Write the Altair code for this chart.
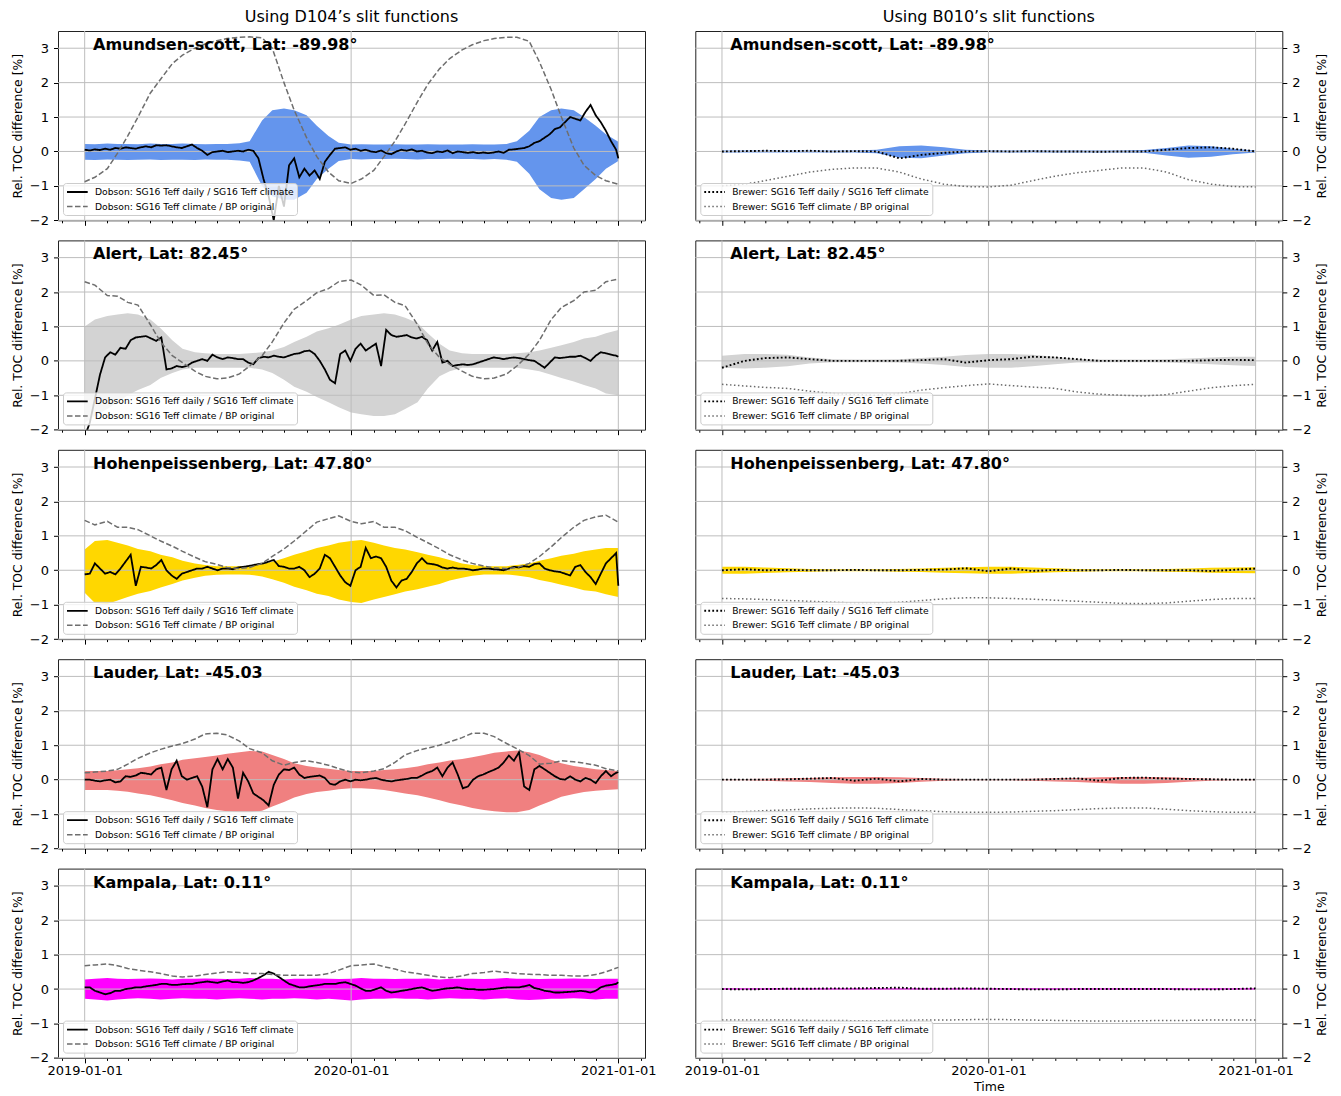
import altair as alt
import pandas as pd

# ---------------- text ----------------
STATIONS = ["Amundsen-scott, Lat: -89.98°", "Alert, Lat: 82.45°",
            "Hohenpeissenberg, Lat: 47.80°", "Lauder, Lat: -45.03", "Kampala, Lat: 0.11°"]
BAND_COLORS = ["#6495ED", "#D3D3D3", "#FFD700", "#F08080", "#FF00FF"]
COL_TITLES = ["Using D104’s slit functions", "Using B010’s slit functions"]
DOBSON_LABELS = ["Dobson: SG16 Teff daily / SG16 Teff climate", "Dobson: SG16 Teff climate / BP original"]
BREWER_LABELS = ["Brewer: SG16 Teff daily / SG16 Teff climate", "Brewer: SG16 Teff climate / BP original"]
Y_TICKS = [-2, -1, 0, 1, 2, 3]
YEAR_LINES = ["2019-01-01", "2020-01-01", "2021-01-01"]

# ---------------- dates ----------------
SEMI_DATES = [f"{y}-{m:02d}-{d:02d}" for y in (2019, 2020) for m in range(1, 13) for d in (1, 15)] + ["2021-01-01"]
MONTH_DATES = [f"{y}-{m:02d}-01" for y in (2019, 2020) for m in range(1, 13)] + ["2021-01-01"]
WEEK_DATES = [d.strftime("%Y-%m-%d") for d in pd.date_range("2019-01-01", periods=105, freq="7D")] + ["2021-01-01"]

# ---------------- D104 (left column) ----------------
# bands and climate ratio: semi-monthly; daily ratio: weekly
AMU_D_UP = [0.22, 0.21, 0.23, 0.22, 0.22, 0.21, 0.23, 0.22, 0.22, 0.23, 0.22, 0.21, 0.22, 0.22, 0.24,
            0.3, 0.9, 1.2, 1.25, 1.2, 1.05, 0.75, 0.45, 0.25,
            0.2, 0.21, 0.2, 0.2, 0.21, 0.2, 0.2, 0.21, 0.2, 0.2, 0.2, 0.21, 0.2, 0.2, 0.22,
            0.3, 0.6, 1.0, 1.2, 1.25, 1.2, 1.0, 0.75, 0.5, 0.28]
AMU_D_LO = [-0.24, -0.25, -0.23, -0.24, -0.25, -0.24, -0.23, -0.25, -0.24, -0.24, -0.25, -0.23, -0.24, -0.24, -0.26,
            -0.3, -1.0, -1.3, -1.4, -1.4, -1.2, -0.8, -0.5, -0.28,
            -0.22, -0.23, -0.22, -0.22, -0.21, -0.22, -0.23, -0.22, -0.22, -0.21, -0.22, -0.22, -0.23, -0.22, -0.24,
            -0.3, -0.65, -1.1, -1.35, -1.4, -1.35, -1.1, -0.8, -0.5, -0.28]
AMU_D_DAILY = [0.05, 0.03, 0.06, 0.04, 0.08, 0.05, 0.1, 0.08, 0.12, 0.1,
               0.08, 0.12, 0.15, 0.12, 0.18, 0.17, 0.18, 0.15, 0.12, 0.1,
               0.15, 0.2, 0.1, 0.02, -0.1, -0.02, 0.0, 0.02, -0.02, 0.0,
               0.02, 0.0, 0.05, 0.02, -0.2, -0.8, -1.3, -2.0, -1.0, -1.6,
               -0.4, -0.2, -0.75, -0.5, -0.7, -0.55, -0.8, -0.3, -0.1, 0.08,
               0.1, 0.12, 0.05, 0.08, 0.02, 0.05, 0.0, -0.02, 0.03, -0.05,
               -0.08, 0.0, 0.05, 0.02, 0.06, 0.0, 0.02, -0.03, -0.05, 0.0,
               -0.02, 0.03, -0.05, 0.0, -0.02, -0.04, -0.02, -0.05, -0.03, -0.05,
               -0.03, 0.0, -0.04, 0.05, 0.06, 0.08, 0.1, 0.15, 0.25, 0.3,
               0.4, 0.5, 0.65, 0.7, 0.85, 1.0, 0.95, 0.9, 1.15, 1.35,
               1.05, 0.85, 0.6, 0.3, 0.05, -0.2]
AMU_D_CLIM = [-0.88, -0.75, -0.5, -0.05, 0.45, 1.0, 1.7, 2.1, 2.55, 2.8, 3.0, 3.12, 3.22, 3.28, 3.32, 3.33,
              3.3, 3.0, 2.0, 1.2, 0.4, -0.15, -0.6, -0.85, -0.93, -0.8, -0.55, -0.15, 0.3, 0.8, 1.45, 1.95,
              2.4, 2.7, 2.95, 3.1, 3.22, 3.28, 3.32, 3.32, 3.2, 2.6, 1.8, 1.0, 0.1, -0.4, -0.7, -0.85, -0.95]

ALE_D_UP = [1.0, 1.2, 1.3, 1.35, 1.38, 1.35, 1.2, 0.95, 0.6, 0.35, 0.25, 0.22, 0.2, 0.2, 0.2, 0.22, 0.25,
            0.3, 0.4, 0.55, 0.7, 0.85, 0.95, 1.05, 1.2, 1.3, 1.35, 1.38, 1.35, 1.25, 1.1, 0.8, 0.5, 0.3,
            0.22, 0.2, 0.2, 0.2, 0.2, 0.22, 0.25, 0.3, 0.38, 0.45, 0.55, 0.65, 0.7, 0.8, 0.9]
ALE_D_LO = [-1.8, -1.6, -1.4, -1.2, -1.0, -0.85, -0.7, -0.5, -0.35, -0.25, -0.2, -0.2, -0.2, -0.2, -0.2,
            -0.2, -0.25, -0.35, -0.55, -0.75, -0.9, -1.05, -1.2, -1.35, -1.5, -1.55, -1.6, -1.6, -1.55, -1.4,
            -1.2, -0.8, -0.45, -0.3, -0.2, -0.2, -0.2, -0.2, -0.2, -0.2, -0.25, -0.3, -0.4, -0.5, -0.6, -0.7,
            -0.8, -0.95, -1.0]
ALE_D_DAILY = [-2.2, -1.8, -1.1, -0.4, 0.1, 0.25, 0.18, 0.38, 0.35, 0.6,
               0.68, 0.7, 0.72, 0.65, 0.58, 0.68, -0.25, -0.22, -0.15, -0.18,
               -0.15, -0.05, 0.0, 0.05, 0.0, 0.18, 0.1, 0.05, 0.1, 0.08,
               0.05, 0.05, -0.05, -0.1, 0.08, 0.12, 0.1, 0.15, 0.12, 0.1,
               0.15, 0.2, 0.22, 0.28, 0.3, 0.2, 0.0, -0.25, -0.55, -0.65,
               0.2, 0.3, 0.0, 0.35, 0.5, 0.3, 0.4, 0.5, -0.15, 0.9,
               0.75, 0.7, 0.72, 0.75, 0.68, 0.65, 0.7, 0.6, 0.3, 0.55,
               -0.05, 0.0, -0.15, -0.12, -0.1, -0.12, -0.1, -0.05, 0.0, 0.05,
               0.1, 0.08, 0.05, 0.08, 0.1, 0.08, 0.05, 0.02, 0.0, -0.1,
               -0.2, -0.05, 0.1, 0.08, 0.1, 0.12, 0.12, 0.15, 0.08, 0.0,
               0.15, 0.25, 0.22, 0.18, 0.15, 0.12]
ALE_D_CLIM = [2.3, 2.2, 1.9, 1.88, 1.7, 1.62, 1.05, 0.55, 0.15, -0.05, -0.3, -0.45, -0.52, -0.5, -0.38,
              -0.15, 0.15, 0.55, 1.1, 1.5, 1.75, 1.98, 2.1, 2.3, 2.35, 2.2, 1.9, 1.92, 1.7, 1.6, 1.05, 0.5,
              0.1, -0.1, -0.3, -0.45, -0.52, -0.5, -0.38, -0.15, 0.2, 0.6, 1.2, 1.55, 1.75, 2.0, 2.05, 2.3, 2.38]

HOH_D_UP = [0.6, 0.85, 0.88, 0.8, 0.72, 0.62, 0.55, 0.45, 0.38, 0.28, 0.2, 0.15, 0.12, 0.12, 0.12, 0.12,
            0.18, 0.25, 0.35, 0.45, 0.55, 0.65, 0.72, 0.8, 0.85, 0.88, 0.8, 0.72, 0.65, 0.6, 0.52, 0.45,
            0.38, 0.3, 0.2, 0.15, 0.12, 0.12, 0.12, 0.15, 0.2, 0.28, 0.35, 0.42, 0.48, 0.55, 0.6, 0.65, 0.65]
HOH_D_LO = [-0.65, -0.95, -0.98, -0.88, -0.78, -0.68, -0.6, -0.5, -0.4, -0.3, -0.22, -0.16, -0.13, -0.12,
            -0.12, -0.13, -0.18, -0.26, -0.36, -0.48, -0.58, -0.68, -0.75, -0.85, -0.92, -0.95, -0.85, -0.78,
            -0.7, -0.62, -0.55, -0.48, -0.4, -0.3, -0.22, -0.16, -0.12, -0.12, -0.12, -0.15, -0.2, -0.28,
            -0.35, -0.42, -0.5, -0.58, -0.62, -0.7, -0.78]
HOH_D_DAILY = [-0.12, -0.1, 0.2, 0.05, -0.1, -0.05, -0.12, 0.05, 0.25, 0.45,
               -0.45, 0.1, 0.08, 0.05, 0.15, 0.3, 0.0, -0.15, -0.25, -0.1,
               -0.05, 0.0, 0.05, 0.05, 0.1, 0.05, 0.0, 0.05, 0.05, 0.03,
               0.08, 0.1, 0.12, 0.15, 0.18, 0.2, 0.25, 0.3, 0.12, 0.1,
               0.05, 0.05, 0.1, 0.0, -0.2, -0.1, 0.05, 0.45, 0.35, 0.1,
               -0.15, -0.35, -0.45, 0.0, 0.1, 0.65, 0.35, 0.4, 0.35, 0.1,
               -0.3, -0.5, -0.3, -0.25, -0.05, 0.2, 0.35, 0.2, 0.18, 0.15,
               0.08, 0.05, 0.08, 0.05, 0.05, 0.03, 0.0, 0.02, 0.05, 0.05,
               0.03, 0.02, 0.0, 0.05, 0.1, 0.08, 0.12, 0.1, 0.18, 0.2,
               0.05, 0.0, -0.03, -0.05, -0.1, -0.15, 0.1, 0.15, -0.05, -0.2,
               -0.4, -0.1, 0.2, 0.35, 0.5, -0.45]
HOH_D_CLIM = [1.45, 1.32, 1.42, 1.25, 1.25, 1.18, 1.0, 0.85, 0.7, 0.55, 0.38, 0.25, 0.17, 0.08, 0.05, 0.08,
              0.2, 0.4, 0.62, 0.85, 1.15, 1.4, 1.5, 1.58, 1.42, 1.35, 1.42, 1.25, 1.25, 1.15, 0.95, 0.8, 0.62,
              0.45, 0.3, 0.2, 0.12, 0.07, 0.05, 0.08, 0.2, 0.4, 0.68, 0.95, 1.25, 1.45, 1.55, 1.6, 1.4]

LAU_D_UP = [0.25, 0.25, 0.25, 0.27, 0.3, 0.33, 0.38, 0.45, 0.5, 0.58, 0.62, 0.66, 0.7, 0.75, 0.8, 0.83,
            0.82, 0.72, 0.6, 0.48, 0.4, 0.35, 0.32, 0.28, 0.25, 0.25, 0.25, 0.28, 0.3, 0.33, 0.38, 0.45,
            0.5, 0.56, 0.6, 0.65, 0.72, 0.78, 0.82, 0.85, 0.8, 0.72, 0.58, 0.48, 0.4, 0.35, 0.3, 0.28, 0.25]
LAU_D_LO = [-0.3, -0.3, -0.3, -0.32, -0.35, -0.4, -0.45, -0.52, -0.6, -0.68, -0.75, -0.82, -0.88, -0.92,
            -0.95, -0.95, -0.9, -0.78, -0.65, -0.52, -0.42, -0.36, -0.32, -0.28, -0.25, -0.25, -0.27, -0.3,
            -0.35, -0.4, -0.45, -0.52, -0.6, -0.68, -0.75, -0.82, -0.88, -0.92, -0.95, -0.95, -0.88, -0.75,
            -0.62, -0.5, -0.42, -0.36, -0.32, -0.3, -0.28]
LAU_D_DAILY = [0.0, 0.0, -0.03, -0.05, -0.02, 0.0, -0.08, -0.05, 0.1, 0.08,
               0.12, 0.2, 0.18, 0.15, 0.3, 0.35, -0.3, 0.3, 0.55, 0.1,
               0.0, 0.05, 0.1, -0.2, -0.8, 0.3, 0.6, 0.3, 0.6, 0.35,
               -0.55, 0.2, -0.05, -0.4, -0.5, -0.6, -0.75, -0.15, 0.15, 0.3,
               0.28, 0.35, 0.15, 0.05, 0.08, 0.1, 0.12, 0.05, -0.12, -0.15,
               -0.05, 0.0, -0.05, 0.0, -0.02, 0.0, 0.03, 0.05, 0.0, -0.03,
               -0.05, -0.02, 0.0, 0.02, 0.05, 0.05, 0.12, 0.2, 0.25, 0.35,
               0.1, 0.35, 0.5, 0.15, -0.25, -0.2, 0.0, 0.1, 0.15, 0.22,
               0.28, 0.35, 0.5, 0.7, 0.55, 0.8, -0.2, -0.3, 0.3, 0.4,
               0.3, 0.2, 0.1, 0.02, 0.0, 0.1, 0.0, -0.05, 0.05, 0.0,
               -0.1, 0.1, 0.25, 0.1, 0.2, 0.22]
LAU_D_CLIM = [0.2, 0.22, 0.25, 0.3, 0.45, 0.62, 0.78, 0.88, 0.98, 1.05, 1.18, 1.33, 1.35, 1.3, 1.12, 0.9,
              0.78, 0.55, 0.42, 0.5, 0.55, 0.5, 0.42, 0.32, 0.22, 0.2, 0.25, 0.32, 0.5, 0.72, 0.85, 0.92, 1.0,
              1.1, 1.22, 1.35, 1.35, 1.25, 1.05, 0.9, 0.7, 0.45, 0.48, 0.55, 0.52, 0.48, 0.42, 0.32, 0.25]

KAM_D_UP = [0.28, 0.3, 0.32, 0.3, 0.29, 0.3, 0.31, 0.3, 0.28, 0.3, 0.3, 0.31, 0.3, 0.29, 0.3, 0.32, 0.3,
            0.3, 0.28, 0.3, 0.3, 0.31, 0.3, 0.29, 0.3, 0.32, 0.3, 0.3, 0.29, 0.3, 0.3, 0.31, 0.28, 0.3, 0.3,
            0.3, 0.29, 0.3, 0.32, 0.3, 0.3, 0.29, 0.3, 0.3, 0.31, 0.3, 0.29, 0.3, 0.3]
KAM_D_LO = [-0.28, -0.3, -0.33, -0.3, -0.28, -0.27, -0.28, -0.3, -0.28, -0.27, -0.28, -0.28, -0.3, -0.28,
            -0.27, -0.28, -0.3, -0.28, -0.28, -0.27, -0.28, -0.3, -0.28, -0.3, -0.33, -0.3, -0.28, -0.28,
            -0.27, -0.28, -0.28, -0.3, -0.28, -0.27, -0.28, -0.28, -0.3, -0.28, -0.27, -0.3, -0.32, -0.3,
            -0.28, -0.28, -0.27, -0.28, -0.3, -0.28, -0.28]
KAM_D_DAILY = [0.05, 0.05, -0.05, -0.1, -0.15, -0.12, -0.05, -0.05, 0.0, 0.02,
               0.05, 0.05, 0.08, 0.1, 0.12, 0.15, 0.15, 0.12, 0.12, 0.14,
               0.15, 0.15, 0.18, 0.2, 0.22, 0.2, 0.18, 0.22, 0.25, 0.2,
               0.2, 0.18, 0.2, 0.25, 0.32, 0.4, 0.5, 0.45, 0.35, 0.25,
               0.15, 0.1, 0.05, 0.05, 0.08, 0.1, 0.12, 0.15, 0.15, 0.15,
               0.18, 0.2, 0.15, 0.1, 0.02, -0.05, -0.05, 0.0, 0.05, -0.05,
               -0.1, -0.08, -0.05, -0.03, 0.0, 0.03, 0.05, 0.0, -0.05, -0.03,
               0.0, 0.02, 0.03, 0.05, 0.02, 0.0, 0.0, -0.02, -0.02, -0.01,
               0.0, 0.02, 0.04, 0.05, 0.05, 0.05, 0.08, 0.12, 0.03, 0.0,
               -0.05, -0.07, -0.1, -0.1, -0.09, -0.08, -0.07, -0.05, -0.07, -0.1,
               -0.05, 0.05, 0.1, 0.12, 0.15, 0.2]
KAM_D_CLIM = [0.68, 0.7, 0.73, 0.68, 0.6, 0.55, 0.5, 0.45, 0.38, 0.35, 0.38, 0.42, 0.47, 0.5, 0.48, 0.45,
              0.45, 0.42, 0.4, 0.4, 0.4, 0.4, 0.45, 0.55, 0.68, 0.7, 0.73, 0.65, 0.58, 0.5, 0.45, 0.4, 0.35,
              0.33, 0.38, 0.45, 0.48, 0.52, 0.48, 0.45, 0.43, 0.42, 0.4, 0.4, 0.38, 0.38, 0.42, 0.5, 0.63]

# ---------------- B010 (right column), monthly ----------------
AMU_B_UP = [0.03, 0.03, 0.03, 0.03, 0.03, 0.03, 0.03, 0.05, 0.15, 0.17, 0.12, 0.05, 0.03, 0.03, 0.03, 0.03,
            0.03, 0.03, 0.03, 0.04, 0.1, 0.17, 0.15, 0.08, 0.03]
AMU_B_LO = [-0.03, -0.03, -0.03, -0.03, -0.03, -0.03, -0.03, -0.05, -0.18, -0.2, -0.12, -0.05, -0.03, -0.03,
            -0.03, -0.03, -0.03, -0.03, -0.03, -0.04, -0.12, -0.18, -0.15, -0.08, -0.03]
AMU_B_DAILY = [0.0, 0.01, 0.02, 0.01, 0.02, 0.0, 0.01, 0.0, -0.2, -0.1, -0.04, 0.0, 0.01, 0.0, 0.01, 0.0,
               0.0, -0.01, 0.0, 0.0, 0.05, 0.1, 0.12, 0.08, 0.0]
AMU_B_CLIM = [-1.0, -0.95, -0.85, -0.72, -0.6, -0.52, -0.48, -0.48, -0.6, -0.8, -0.95, -1.02, -1.03, -0.98,
              -0.85, -0.72, -0.62, -0.55, -0.48, -0.48, -0.6, -0.82, -0.95, -1.02, -1.03]

ALE_B_UP = [0.15, 0.2, 0.2, 0.18, 0.1, 0.05, 0.04, 0.04, 0.05, 0.08, 0.12, 0.17, 0.2, 0.2, 0.18, 0.12, 0.06,
            0.04, 0.04, 0.04, 0.05, 0.07, 0.1, 0.12, 0.12]
ALE_B_LO = [-0.2, -0.22, -0.2, -0.16, -0.08, -0.04, -0.04, -0.04, -0.05, -0.08, -0.12, -0.18, -0.2, -0.2,
            -0.16, -0.1, -0.05, -0.04, -0.04, -0.04, -0.05, -0.07, -0.1, -0.13, -0.15]
ALE_B_DAILY = [-0.2, 0.0, 0.08, 0.1, 0.05, 0.0, 0.0, 0.0, 0.0, 0.02, 0.05, -0.05, 0.02, 0.05, 0.12, 0.1, 0.05,
               0.0, 0.0, 0.0, 0.0, 0.0, 0.02, 0.03, 0.02]
ALE_B_CLIM = [-0.68, -0.73, -0.77, -0.8, -0.88, -0.95, -0.98, -1.0, -0.95, -0.85, -0.78, -0.72, -0.67, -0.72,
              -0.76, -0.8, -0.9, -0.97, -1.0, -1.02, -0.98, -0.88, -0.78, -0.72, -0.68]

HOH_B_UP = [0.1, 0.1, 0.08, 0.06, 0.04, 0.03, 0.03, 0.03, 0.04, 0.05, 0.07, 0.09, 0.1, 0.1, 0.08, 0.06, 0.04,
            0.03, 0.03, 0.03, 0.04, 0.05, 0.07, 0.08, 0.09]
HOH_B_LO = [-0.1, -0.1, -0.08, -0.06, -0.04, -0.03, -0.03, -0.03, -0.04, -0.05, -0.07, -0.09, -0.1, -0.1,
            -0.08, -0.06, -0.04, -0.03, -0.03, -0.03, -0.04, -0.05, -0.07, -0.08, -0.09]
HOH_B_DAILY = [0.0, 0.03, 0.0, 0.01, 0.0, 0.0, 0.01, 0.0, 0.0, 0.01, 0.02, 0.06, -0.03, 0.05, -0.02, 0.01, 0.0,
               0.0, 0.01, 0.0, 0.0, 0.0, -0.02, 0.01, 0.05]
HOH_B_CLIM = [-0.82, -0.83, -0.85, -0.88, -0.9, -0.93, -0.95, -0.95, -0.93, -0.88, -0.83, -0.8, -0.8, -0.82,
              -0.84, -0.87, -0.9, -0.93, -0.96, -0.97, -0.95, -0.9, -0.85, -0.82, -0.82]

LAU_B_UP = [0.02, 0.02, 0.03, 0.04, 0.05, 0.07, 0.08, 0.08, 0.07, 0.05, 0.03, 0.02, 0.02, 0.02, 0.03, 0.04,
            0.05, 0.07, 0.08, 0.08, 0.07, 0.05, 0.03, 0.02, 0.02]
LAU_B_LO = [-0.02, -0.02, -0.03, -0.05, -0.07, -0.1, -0.12, -0.12, -0.1, -0.06, -0.03, -0.02, -0.02, -0.02,
            -0.03, -0.05, -0.07, -0.1, -0.12, -0.12, -0.1, -0.06, -0.03, -0.02, -0.02]
LAU_B_DAILY = [0.0, 0.0, 0.0, 0.01, 0.03, 0.05, -0.03, 0.03, -0.05, 0.02, 0.0, 0.0, 0.0, 0.0, 0.0, 0.02, 0.04,
               -0.03, 0.05, 0.06, 0.03, 0.02, 0.01, 0.0, 0.0]
LAU_B_CLIM = [-0.95, -0.93, -0.9, -0.88, -0.85, -0.83, -0.82, -0.83, -0.87, -0.9, -0.93, -0.95, -0.95, -0.94,
              -0.92, -0.9, -0.87, -0.84, -0.82, -0.82, -0.86, -0.9, -0.93, -0.95, -0.95]

KAM_B_UP = [0.03, 0.03, 0.03, 0.03, 0.03, 0.03, 0.03, 0.03, 0.03, 0.03, 0.03, 0.03, 0.03, 0.03, 0.03, 0.03,
            0.03, 0.03, 0.03, 0.03, 0.03, 0.03, 0.03, 0.03, 0.03]
KAM_B_LO = [-0.03, -0.03, -0.03, -0.03, -0.03, -0.03, -0.03, -0.03, -0.03, -0.03, -0.03, -0.03, -0.03, -0.03,
            -0.03, -0.03, -0.03, -0.03, -0.03, -0.03, -0.03, -0.03, -0.03, -0.03, -0.03]
KAM_B_DAILY = [0.0, -0.01, 0.0, 0.01, 0.01, 0.02, 0.02, 0.03, 0.04, 0.01, 0.01, 0.02, 0.01, 0.0, -0.01, -0.01,
               0.0, 0.0, 0.0, 0.0, 0.0, -0.01, -0.01, 0.0, 0.02]
KAM_B_CLIM = [-0.9, -0.9, -0.9, -0.9, -0.91, -0.91, -0.92, -0.92, -0.91, -0.9, -0.9, -0.89, -0.88, -0.89,
              -0.9, -0.91, -0.92, -0.93, -0.93, -0.92, -0.91, -0.91, -0.9, -0.9, -0.9]

LEFT = [(AMU_D_UP, AMU_D_LO, AMU_D_DAILY, AMU_D_CLIM), (ALE_D_UP, ALE_D_LO, ALE_D_DAILY, ALE_D_CLIM),
        (HOH_D_UP, HOH_D_LO, HOH_D_DAILY, HOH_D_CLIM), (LAU_D_UP, LAU_D_LO, LAU_D_DAILY, LAU_D_CLIM),
        (KAM_D_UP, KAM_D_LO, KAM_D_DAILY, KAM_D_CLIM)]
RIGHT = [(AMU_B_UP, AMU_B_LO, AMU_B_DAILY, AMU_B_CLIM), (ALE_B_UP, ALE_B_LO, ALE_B_DAILY, ALE_B_CLIM),
         (HOH_B_UP, HOH_B_LO, HOH_B_DAILY, HOH_B_CLIM), (LAU_B_UP, LAU_B_LO, LAU_B_DAILY, LAU_B_CLIM),
         (KAM_B_UP, KAM_B_LO, KAM_B_DAILY, KAM_B_CLIM)]

# ---------------- styling ----------------
FONT = "DejaVu Sans"
PANEL_W, PANEL_H = 587, 189.3
GRID_COLOR = "#bdbdbd"


def ms(t):
    return int(t.value // 10**6)


X_START = ms(pd.Timestamp("2019-01-01", tz="UTC") - pd.Timedelta(days=36.55))
X_END = ms(pd.Timestamp("2021-01-01", tz="UTC") + pd.Timedelta(days=36.55))
TICK_VALUES = [ms(t) for t in pd.date_range("2018-12-01", "2021-02-01", freq="MS", tz="UTC")]
MAJOR = "utcmonth(datum.value) == 0"


def make_panel(row, col):
    bottom = row == 4
    if col == 0:
        band_dates, daily_dates, clim_dates = SEMI_DATES, WEEK_DATES, SEMI_DATES
        up, lo, daily, clim = LEFT[row]
        labels = DOBSON_LABELS
        colors = ["#000000", "#6e6e6e"]
        dashes = [[1, 0], [5.5, 2.5]]
        widths = [1.8, 1.5]
    else:
        band_dates, daily_dates, clim_dates = MONTH_DATES, MONTH_DATES, MONTH_DATES
        up, lo, daily, clim = RIGHT[row]
        labels = BREWER_LABELS
        colors = ["#000000", "#6a6a6a"]
        dashes = [[1.8, 2.2], [1.5, 2.5]]
        widths = [1.9, 1.5]

    x_scale = alt.Scale(type="utc", domain=[X_START, X_END], nice=False)
    y_scale = alt.Scale(domain=[-2, 3.5], nice=False, zero=False)
    x_axis = alt.Axis(
        values=TICK_VALUES, labels=bottom,
        labelExpr="utcmonth(datum.value) == 0 ? utcFormat(datum.value, '%Y-%m-%d') : ''",
        tickSize={"condition": {"test": MAJOR, "value": 5}, "value": 2.5},
        tickColor="#000", tickWidth=1, grid=False, domain=False,
        labelFont=FONT, labelFontSize=13, labelColor="#000", labelPadding=2,
        labelFlush=False, labelOverlap=False,
        titleFont=FONT, titleFontSize=12.5, titleFontWeight="normal", titleColor="#000", titlePadding=3,
    )
    y_axis_kw = dict(values=Y_TICKS, grid=False, domain=False, tickSize=4.5, tickColor="#000",
                     labelFont=FONT, labelFontSize=13, labelColor="#000", labelPadding=5,
                     titleFont=FONT, titleFontSize=12.4, titleFontWeight="normal", titleColor="#000",
                     titlePadding=5)
    if col == 0:
        y_axis = alt.Axis(orient="left", **y_axis_kw)
    else:
        y_axis = alt.Axis(orient="right", titleAngle=270, titleBaseline="top", **y_axis_kw)
    ytitle = "Rel. TOC difference [%]"
    xtitle = "Time" if (bottom and col == 1) else None

    X = alt.X("date:T", scale=x_scale, axis=x_axis, title=xtitle)

    band_df = pd.DataFrame({"date": band_dates, "upper": up, "lower": lo})
    band = alt.Chart(band_df).mark_area(color=BAND_COLORS[row], opacity=1, clip=True).encode(
        x=X,
        y=alt.Y("lower:Q", scale=y_scale, axis=y_axis, title=ytitle),
        y2="upper:Q",
    )
    hgrid = alt.Chart(pd.DataFrame({"value": Y_TICKS})).mark_rule(color=GRID_COLOR, strokeWidth=1).encode(
        y=alt.Y("value:Q", scale=y_scale, axis=y_axis, title=ytitle)
    )
    vgrid = alt.Chart(pd.DataFrame({"date": YEAR_LINES})).mark_rule(color=GRID_COLOR, strokeWidth=1).encode(
        x=X
    )
    line_df = pd.concat([
        pd.DataFrame({"date": daily_dates, "value": daily, "series": labels[0]}),
        pd.DataFrame({"date": clim_dates, "value": clim, "series": labels[1]}),
    ], ignore_index=True)
    leg = alt.Legend(
        orient="bottom-left", title=None, offset=5, padding=3,
        fillColor="rgba(255,255,255,0.8)", strokeColor="#cccccc", cornerRadius=3,
        labelFont=FONT, labelFontSize=9.2, labelColor="#000", labelLimit=400,
        symbolType="M-1,0H3.14", symbolSize=100, symbolStrokeWidth=1.6,
        symbolFillColor="transparent", labelOffset=17, rowPadding=2.5,
    )
    lines = alt.Chart(line_df).mark_line(clip=True).encode(
        x=X,
        y=alt.Y("value:Q", scale=y_scale, axis=y_axis, title=ytitle),
        color=alt.Color("series:N", scale=alt.Scale(domain=labels, range=colors), legend=leg),
        strokeDash=alt.StrokeDash("series:N", scale=alt.Scale(domain=labels, range=dashes), legend=leg),
        strokeWidth=alt.StrokeWidth("series:N", scale=alt.Scale(domain=labels, range=widths), legend=None),
    )
    label = alt.Chart(pd.DataFrame({"label": [STATIONS[row]]})).mark_text(
        align="left", baseline="alphabetic", font=FONT, fontSize=16, fontWeight="bold", color="#000"
    ).encode(text="label:N", x=alt.value(35), y=alt.value(19))

    layer = alt.layer(band, hgrid, vgrid, lines, label).properties(width=PANEL_W, height=PANEL_H)
    if row == 0:
        layer = layer.properties(title=alt.Title(
            COL_TITLES[col], font=FONT, fontSize=16, fontWeight="normal", color="#000",
            anchor="middle", frame="group", offset=6))
    return layer


panels = [make_panel(r, c) for r in range(5) for c in range(2)]

chart = alt.concat(
    *panels, columns=2, spacing={"row": 19.4, "column": 50.3}, bounds="flush"
).resolve_scale(
    x="independent", y="independent", color="independent", strokeDash="independent", strokeWidth="independent"
).resolve_legend(
    color="independent", strokeDash="independent"
).properties(
    padding={"left": 2, "top": 0, "right": 2, "bottom": 2}
).configure_view(stroke="#222222", strokeWidth=1)

chart.save("out.html", embed_options={"renderer": "svg", "actions": False})
